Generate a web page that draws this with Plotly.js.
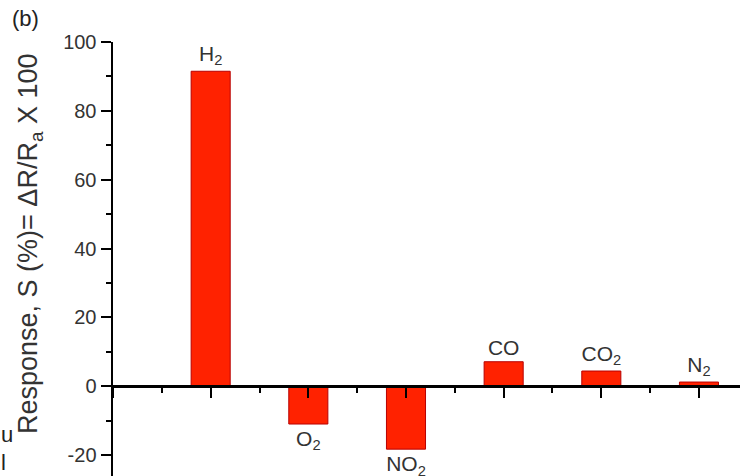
<!DOCTYPE html>
<html>
<head>
<meta charset="utf-8">
<script src="https://cdn.plot.ly/plotly-3.0.1.min.js"></script>
<style>
  html, body { margin: 0; padding: 0; background: #fff; }
  #chart { width: 740px; height: 476px; }
</style>
</head>
<body>
<div id="chart"></div>
<script>
// Data
const gases = ["H<sub>2</sub>", "O<sub>2</sub>", "NO<sub>2</sub>", "CO", "CO<sub>2</sub>", "N<sub>2</sub>"];
const response = [91.5, -11.0, -18.3, 7.1, 4.4, 1.2];
const yTickVals = [-20, 0, 20, 40, 60, 80, 100];
const yTickText = ["-20", "0", "20", "40", "60", "80", "100"];

const yMin = -26.1, yMax = 100;
const xMin = -1, xMax = 5.42;
const xPos = gases.map((g, i) => i);

const font = "Liberation Sans, Arial, sans-serif";
const textColor = "#333";

const trace = {
  type: "bar",
  x: xPos,
  y: response,
  width: 0.4,
  text: gases,
  textposition: "outside",
  constraintext: "none",
  cliponaxis: false,
  textfont: { family: font, size: 21, color: textColor },
  marker: { color: "#ff2200", line: { color: "#b80000", width: 1 } },
  hoverinfo: "skip"
};

const layout = {
  width: 740,
  height: 476,
  margin: { l: 113, r: 0, t: 42, b: 0 },
  paper_bgcolor: "#fff",
  plot_bgcolor: "#fff",
  showlegend: false,
  font: { family: font, color: textColor },
  xaxis: {
    range: [xMin, xMax],
    anchor: "free",
    position: (0 - yMin) / (yMax - yMin),
    showgrid: false,
    zeroline: false,
    showline: true,
    linecolor: "#000",
    linewidth: 2.5,
    ticks: "outside",
    ticklen: 10,
    tickwidth: 2,
    tickcolor: "#000",
    dtick: 1,
    tick0: 0,
    showticklabels: false,
    minor: { dtick: 0.5, tick0: 0, ticks: "outside", ticklen: 5, tickwidth: 2, tickcolor: "#000" }
  },
  yaxis: {
    range: [yMin, yMax],
    showgrid: false,
    zeroline: false,
    showline: true,
    linecolor: "#000",
    linewidth: 2.5,
    ticks: "outside",
    ticklen: 10,
    tickwidth: 2,
    tickcolor: "#000",
    tickvals: yTickVals,
    ticktext: yTickText,
    tickfont: { family: font, size: 20, color: textColor },
    minor: { dtick: 10, tick0: 0, ticks: "outside", ticklen: 5, tickwidth: 2, tickcolor: "#000" }
  },
  annotations: [
    {
      text: "Response, S (%)= \u0394R/R<sub>a</sub> X 100",
      xref: "paper", yref: "paper",
      x: (30 - 113) / 627, y: (476 - 244) / 434,
      xanchor: "center", yanchor: "middle",
      textangle: -90,
      showarrow: false,
      font: { family: font, size: 27, color: textColor }
    },
    {
      text: "(b)",
      xref: "paper", yref: "paper",
      x: (25 - 113) / 627, y: (476 - 19) / 434,
      xanchor: "center", yanchor: "middle",
      showarrow: false,
      font: { family: font, size: 22, color: "#222" }
    },
    {
      text: "u",
      xref: "paper", yref: "paper",
      x: (-1 - 113) / 627, y: (476 - 434) / 434,
      xanchor: "left", yanchor: "middle",
      showarrow: false,
      font: { family: font, size: 22, color: "#222" }
    },
    {
      text: "l",
      xref: "paper", yref: "paper",
      x: (-1 - 113) / 627, y: (476 - 462) / 434,
      xanchor: "left", yanchor: "middle",
      showarrow: false,
      font: { family: font, size: 22, color: "#222" }
    }
  ]
};

Plotly.newPlot("chart", [trace], layout, { displayModeBar: false, staticPlot: true });
</script>
</body>
</html>
